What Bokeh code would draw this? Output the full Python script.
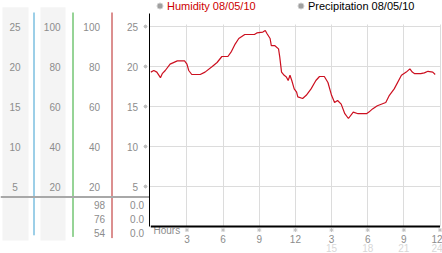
from bokeh.plotting import figure
from bokeh.models import (Range1d, FixedTicker, Legend, LegendItem, Grid)
from bokeh.embed import file_html
from bokeh.resources import INLINE
from bokeh.core.properties import value

# ---------------- data ----------------
hours = [0, 0.25, 0.5, 0.8, 0.95, 1.2, 1.6, 2.2, 2.8, 3.0, 3.15, 3.4, 4.1, 4.5,
         5.1, 5.5, 5.9, 6.4, 6.7, 7.0, 7.3, 7.8, 8.6, 8.8, 9.3, 9.5, 9.65, 9.9,
         10.0, 10.3, 10.6, 10.7, 10.85, 11.07, 11.25, 11.4, 11.55, 11.7, 11.9,
         12.1, 12.2, 12.6, 12.9, 13.3, 13.7, 14.0, 14.4, 14.7, 15.0, 15.25,
         15.5, 15.8, 16.1, 16.4, 16.8, 17.2, 17.9, 18.1, 18.4, 18.8, 19.5,
         19.8, 20.2, 20.8, 21.2, 21.5, 21.7, 21.9, 22.4, 22.7, 23.0, 23.4, 23.6]
humidity = [19.3, 19.5, 19.3, 18.6, 19.1, 19.5, 20.3, 20.7, 20.7, 20.3, 19.5,
            19.0, 19.0, 19.3, 20.0, 20.5, 21.25, 21.25, 21.9, 22.8, 23.5, 24.0,
            24.0, 24.2, 24.3, 24.5, 24.1, 23.5, 22.6, 22.6, 22.2, 21.2, 19.3,
            18.9, 18.7, 18.25, 18.9, 18.25, 17.2, 16.8, 16.2, 16.0, 16.4, 17.2,
            18.25, 18.75, 18.75, 18.0, 16.4, 15.5, 15.75, 15.3, 14.1, 13.5,
            14.3, 14.1, 14.1, 14.3, 14.7, 15.1, 15.5, 16.4, 17.2, 18.9, 19.3,
            19.7, 19.3, 19.1, 19.1, 19.2, 19.4, 19.3, 19.0]
precip_hours = [0, 24]
precipitation = [0.0, 0.0]

y_ticks = [25, 20, 15, 10, 5]
col1_labels = ["25", "20", "15", "10", "5"]
col2_labels = ["100", "80", "60", "40", "20"]
col3_labels = ["100", "80", "60", "40", "20"]
col4_labels = ["25", "20", "15", "10", "5"]
col3_bottom = ["98", "76", "54"]
col4_bottom = ["0.0", "0.0", "0.0"]

x_ticks = [3, 6, 9, 12, 15, 18, 21, 24]
x_labels = ["3", "6", "9", "12", "3", "6", "9", "12"]
x_ticks2 = [15, 18, 21, 24]
x_labels2 = ["15", "18", "21", "24"]
x_title = "Hours"
legend_labels = ["Humidity 08/05/10", "Precipitation 08/05/10"]

FONT = value("Liberation Sans")
GRAY = "#8c8c8c"
NAN = float("nan")

# one canvas: hours / humidity scales, plus a pixel-like range for the side panel
p = figure(width=442, height=253, x_range=Range1d(-12.473, 24.207),
           y_range=Range1d(-3.375, 28.25), x_axis_type=None, y_axis_type=None,
           toolbar_location=None, output_backend="svg", min_border=0,
           outline_line_color=None)
p.grid.visible = False
p.extra_x_ranges = {"panel": Range1d(0, 442)}


def add_grid(dim, ticks, cross, color, width=1):
    try:
        g = Grid(dimension=dim, ticker=FixedTicker(ticks=ticks),
                 cross_bounds=cross, grid_line_color=color,
                 grid_line_width=width)
        p.add_layout(g)
    except Exception:
        if dim == 0:
            p.segment(x0=ticks, x1=ticks, y0=[cross[0]] * len(ticks),
                      y1=[cross[1]] * len(ticks), line_color=color,
                      line_width=width)
        else:
            p.segment(y0=ticks, y1=ticks, x0=[cross[0]] * len(ticks),
                      x1=[cross[1]] * len(ticks), line_color=color,
                      line_width=width)


# grid lines of the main plot
add_grid(0, x_ticks, (0, 25.2), "#dcdcdc")
add_grid(1, y_ticks, (-0.108, 24.04), "#dcdcdc")
# vertical axis line
add_grid(0, [-0.08], (0, 26.6), "black")

# ---------------- side panel ----------------
P = dict(x_range_name="panel")
p.quad(left=[2, 40], right=[28, 65], top=27.4, bottom=-1.75,
       fill_color="#f4f4f4", line_color=None, **P)
p.segment(x0=[33.5, 72.5, 111.5], x1=[33.5, 72.5, 111.5],
          y0=[26.75, 26.75, 26.75], y1=[-1.1, -1.3, -1.45],
          line_color=["#3a9fd0", "#2ea82e", "#b82020"], line_width=1, **P)
p.segment(x0=[0], x1=[148.5], y0=[3.69], y1=[3.69],
          line_color="#a8a8a8", line_width=2, **P)

bottom_rows = [2.75, 0.95, -0.75]
txt = dict(text_font=FONT, text_font_size="10px", text_color=GRAY,
           text_baseline="middle")
p.text(x=[14.5] * 5, y=y_ticks, text=col1_labels, text_align="center", **txt, **P)
p.text(x=[60] * 5, y=y_ticks, text=col2_labels, text_align="right", **txt, **P)
p.text(x=[99.5] * 5, y=y_ticks, text=col3_labels, text_align="right", **txt, **P)
p.text(x=[137.5] * 5, y=y_ticks, text=col4_labels, text_align="right", **txt, **P)
p.text(x=[104.5] * 3, y=bottom_rows, text=col3_bottom, text_align="right", **txt, **P)
p.text(x=[143.5] * 3, y=bottom_rows, text=col4_bottom, text_align="right", **txt, **P)
# y tick markers
p.scatter(x=[145] * 5, y=y_ticks, marker="asterisk", size=4,
          line_color="#c0c0c0", line_width=1, **P)

# ---------------- x axis texts ----------------
p.scatter(x=x_ticks, y=[-0.44] * len(x_ticks), marker="asterisk", size=4,
          line_color="#c0c0c0", line_width=1)
offs1 = [0] * (len(x_ticks) - 1) + [-3]
offs2 = [0] * (len(x_ticks2) - 1) + [-3]
p.text(x=x_ticks, y=[-1.54] * len(x_ticks), text=x_labels, text_align="center",
       x_offset=offs1, **txt)
p.text(x=x_ticks2, y=[-2.71] * len(x_ticks2), text=x_labels2,
       text_align="center", x_offset=offs2, text_font=FONT,
       text_font_size="10px", text_color="#d8d8d8", text_baseline="middle")
p.text(x=[0.22], y=[-0.56], text=[x_title], text_align="left", **txt)

# ---------------- series ----------------
p.line(precip_hours, precipitation, line_color="black", line_width=2)
p.line(hours, humidity, line_color="#cc1020", line_width=1.2)

# ---------------- legends ----------------
r_h = p.scatter([NAN], [NAN], marker="circle", size=6, fill_color="#a0a0a0",
                line_color="#d0d0d0")
r_p = p.scatter([NAN], [NAN], marker="circle", size=6, fill_color="#a0a0a0",
                line_color="#d0d0d0")
for lab, rend, loc, col in [(legend_labels[0], r_h, (152, 239.8), "#cc0000"),
                            (legend_labels[1], r_p, (293, 239.8), "black")]:
    lg = Legend(items=[LegendItem(label=lab, renderers=[rend], index=0)],
                location=loc,
                orientation="horizontal", glyph_width=15, glyph_height=15,
                label_standoff=0, padding=0, margin=0, spacing=0,
                label_height=13, border_line_alpha=0, background_fill_alpha=0,
                label_text_font="Liberation Sans", label_text_font_size="11px",
                label_text_color=col)
    p.add_layout(lg)

open("out.html", "w").write(file_html(p, INLINE))
